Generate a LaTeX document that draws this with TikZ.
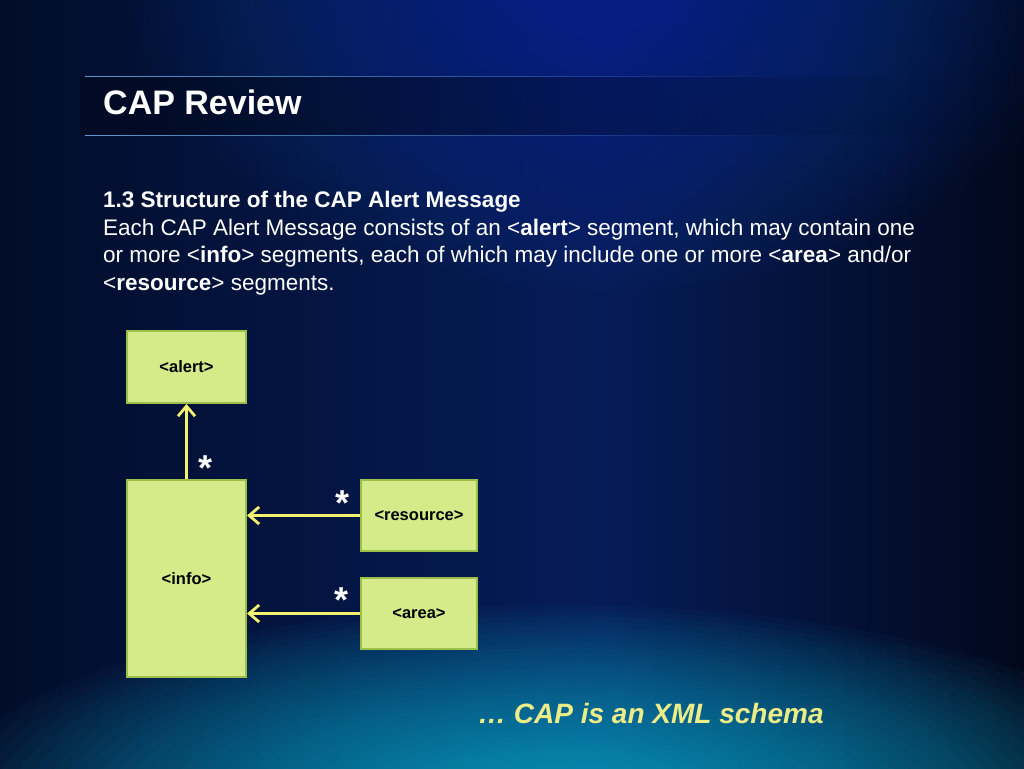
\documentclass[tikz,border=0pt]{standalone}
\usepackage{fontspec}
\setmainfont{Liberation Sans}
\usetikzlibrary{arrows.meta,fadings}
\tikzfading[name=fade right, left color=transparent!0, right color=transparent!100]
\definecolor{bgbase}{HTML}{041642}
\definecolor{bgleft}{HTML}{020D2A}
\definecolor{bgmid}{HTML}{061C58}
\definecolor{bgright}{HTML}{02081C}
\definecolor{topglow}{HTML}{0A3CA0}
\definecolor{tealglow}{HTML}{20B4D4}
\definecolor{bandcol}{HTML}{010A22}
\definecolor{linecol}{HTML}{5A9AD0}
\definecolor{boxfill}{HTML}{D5EA88}
\definecolor{boxedge}{HTML}{9CC04A}
\definecolor{arrowcol}{HTML}{F2F270}
\definecolor{tagline}{HTML}{EDED88}
\tikzset{
  umlbox/.style={draw=boxedge, line width=2pt, fill=boxfill, inner sep=0pt,
    font=\fontsize{16.5}{19}\selectfont\bfseries, text=black},
  conn/.style={draw=arrowcol, line width=2.8pt,
    -{Straight Barb[length=10pt,width=17pt,line width=2.8pt]}},
  mult/.style={text=white, font=\fontsize{36}{40}\selectfont\bfseries, inner sep=0pt, anchor=base},
  bodyline/.style={text=white, font=\fontsize{22.5}{27}\selectfont, inner sep=0pt, anchor=base west},
}
\begin{document}
\begin{tikzpicture}[x=1pt,y=-1pt]
\useasboundingbox (0,0) rectangle (1024,768);
% background
\fill[bgbase] (0,0) rectangle (1024,768);
\shade[left color=bgleft, right color=bgmid] (0,0) rectangle (600,768);
\shade[left color=bgmid, right color=bgright] (600,0) rectangle (1024,768);
\begin{scope}
\clip (0,0) rectangle (1024,768);
\foreach \i in {1,...,60}{
  \pgfmathsetmacro{\f}{(\i/60)^1.7}
  \fill[topglow, fill opacity=0.03] (610,-30) ellipse [x radius={\f*480}, y radius={\f*320}];
  \fill[tealglow, fill opacity=0.035] (560,805) ellipse [x radius={\f*620}, y radius={\f*200}];
}
\end{scope}
% title band
\fill[bandcol, opacity=0.8, path fading=fade right] (80,77) rectangle (950,135);
\draw[linecol, line width=1.5pt, path fading=fade right] (85,76.5) -- (780,76.5);
\draw[linecol, line width=1.5pt, path fading=fade right] (85,135.5) -- (780,135.5);
% title
\node[text=white, font=\fontsize{34}{40}\selectfont\bfseries, inner sep=0pt, anchor=base west] (title) at (103,114) {CAP Review};
% body text
\node[bodyline] (l1) at (103,207) {\bfseries 1.3 Structure of the CAP Alert Message};
\node[bodyline] (l2) at (103,235) {Each CAP Alert Message consists of an <\textbf{alert}> segment, which may contain one};
\node[bodyline] (l3) at (103,262) {or more <\textbf{info}> segments, each of which may include one or more <\textbf{area}> and/or};
\node[bodyline] (l4) at (103,290) {<\textbf{resource}> segments.};
% boxes
\node[umlbox, minimum width=119pt, minimum height=72pt] (alert) at (186.5,367) {<alert>};
\node[umlbox, minimum width=119pt, minimum height=197pt] (info) at (186.5,578.5) {<info>};
\node[umlbox, minimum width=116pt, minimum height=71pt] (resource) at (419,515.5) {<resource>};
\node[umlbox, minimum width=116pt, minimum height=71pt] (area) at (419,613.5) {<area>};
% connectors
\draw[conn] (info.north) -- (alert.south);
\draw[conn] (resource.west) -- (info.east |- resource.west);
\draw[conn] (area.west) -- (info.east |- area.west);
% multiplicities
\node[mult] (m1) at (205.5,480.5) {*};
\node[mult] (m2) at (342.5,515.5) {*};
\node[mult] (m3) at (341,612.5) {*};
% tagline
\node[text=tagline, font=\fontsize{28}{32}\selectfont\bfseries\itshape, inner sep=0pt, anchor=base west] (tag) at (478,723) {… CAP is an XML schema};
\end{tikzpicture}
\end{document}
